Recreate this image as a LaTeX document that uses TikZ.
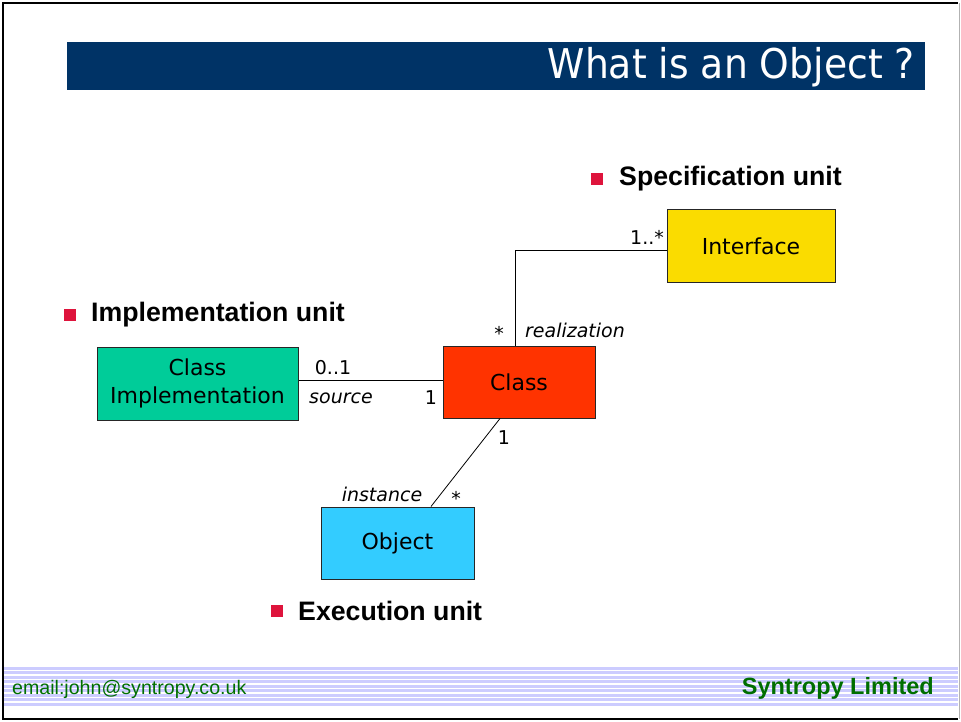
\documentclass[tikz,border=0pt]{standalone}
\usepackage{fontspec}
\setmainfont{Liberation Sans}
\newfontfamily\boxfont{DejaVu Sans}
\newfontfamily\titlefont{DejaVu Sans}
\definecolor{titleblue}{RGB}{0,51,102}
\definecolor{bulletred}{RGB}{222,20,60}
\definecolor{ifyellow}{RGB}{250,220,0}
\definecolor{implgreen}{RGB}{0,204,153}
\definecolor{classred}{RGB}{255,51,0}
\definecolor{objcyan}{RGB}{51,204,255}
\definecolor{lavender}{RGB}{204,204,255}
\definecolor{footgreen}{RGB}{0,110,0}
\begin{document}
\begin{tikzpicture}[x=1pt,y=-1pt,
  umlbox/.style={draw=black!85, line width=1pt, inner sep=0pt, align=center,
    font=\boxfont\fontsize{22}{28}\selectfont},
  mult/.style={inner sep=0pt, font=\boxfont\fontsize{19}{22}\selectfont},
  role/.style={inner sep=0pt, font=\boxfont\itshape\fontsize{19}{22}\selectfont},
  bullet/.style={fill=bulletred, minimum size=12.5pt, inner sep=0pt},
  heading/.style={inner sep=0pt, anchor=west, font=\bfseries\fontsize{26.7}{30}\selectfont},
  conn/.style={draw=black, line width=0.8pt}]
\useasboundingbox (0,0) rectangle (961,722);
\fill[white] (0,0) rectangle (961,722);
% footer stripes
\fill[lavender] (3,667) rectangle (958,706);
\foreach \yy in {670.5,675,679.5,684,688.5,693,697.5,702}{
  \draw[white, line width=1.1pt] (3,\yy) -- (958,\yy);
}
% frame
\draw[black, line width=2pt] (958,3) -- (3,3) -- (3,719) -- (958,719);
\draw[black!30, line width=1pt] (959.5,3) -- (959.5,719);
% title bar
\node[fill=titleblue, minimum width=858pt, minimum height=48pt, inner sep=0pt] (bar) at (496,66) {};
\node[anchor=east, text=white, inner sep=0pt, xscale=0.92,
  font=\titlefont\fontsize{41}{46}\selectfont] (title) at (915,67) {What is an Object ?};
% headings
\node[bullet] (b1) at (597,179) {};
\node[heading] (h1) at (619,179) {Specification unit};
\node[bullet] (b2) at (70,315) {};
\node[heading] (h2) at (91,315) {Implementation unit};
\node[bullet] (b3) at (277,611) {};
\node[heading] (h3) at (298,611) {Execution unit};
% boxes
\node[umlbox, fill=ifyellow, minimum width=168pt, minimum height=72pt] (intf) at (751,246) {Interface};
\node[umlbox, fill=implgreen, minimum width=201pt, minimum height=73pt] (impl) at (197.5,383.5) {Class\\Implementation};
\node[umlbox, fill=classred, minimum width=152pt, minimum height=72pt] (cls) at (519,382) {Class};
\node[umlbox, fill=objcyan, minimum width=153pt, minimum height=72pt] (obj) at (397.5,543) {Object};
% connectors
\draw[conn] ([yshift=2pt]cls.west) -- ([yshift=2pt]cls.west -| impl.east);
\draw[conn] ([xshift=-4pt]cls.north) |- ([yshift=-4pt]intf.west);
\draw[conn] ([xshift=-19pt]cls.south) -- ([xshift=33.5pt]obj.north);
% labels
\node[mult] (m1) at (333,368) {0..1};
\node[role] (r1) at (341,398) {source};
\node[mult] (m2) at (431,398) {1};
\node[mult] (m3) at (647,237) {1..*};
\node[mult] (m4) at (499,333) {*};
\node[role] (r2) at (575,330) {realization};
\node[mult] (m5) at (504,438) {1};
\node[role] (r3) at (382,494) {instance};
\node[mult] (m6) at (456,498) {*};
% footer text
\node[anchor=west, inner sep=0pt, text=footgreen, font=\fontsize{19.6}{22}\selectfont] (mail) at (12,689) {email:john@syntropy.co.uk};
\node[anchor=east, inner sep=0pt, text=footgreen, font=\bfseries\fontsize{23.5}{26}\selectfont] (firm) at (934,688) {Syntropy Limited};
\end{tikzpicture}
\end{document}
